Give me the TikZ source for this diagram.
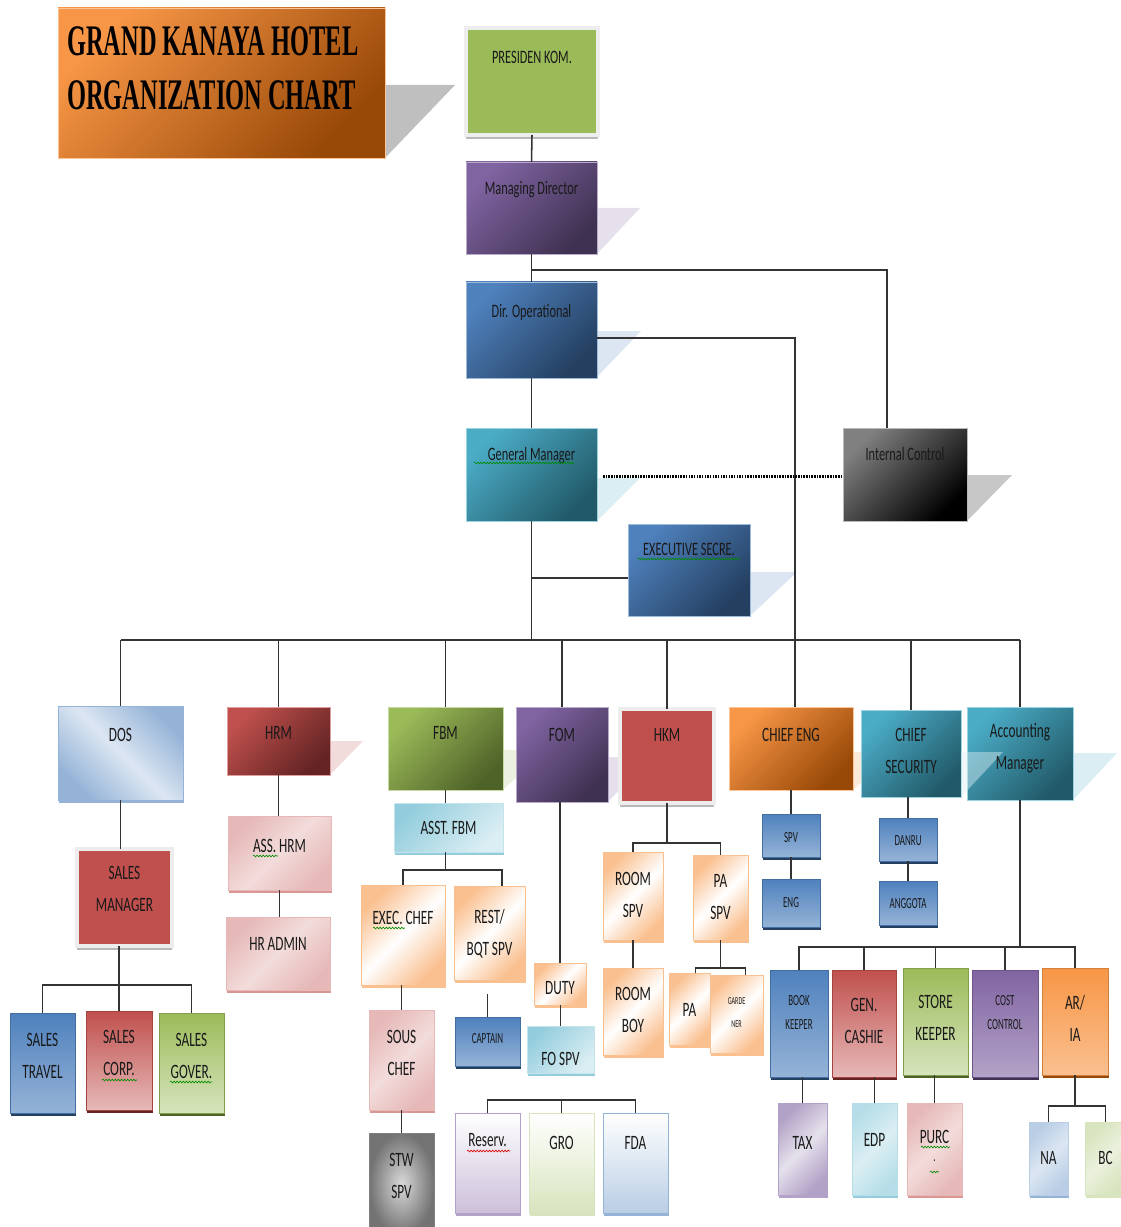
\documentclass[tikz,border=0pt]{standalone}
\usepackage{fontspec}
\setmainfont{Carlito}
\newfontfamily\ckf[FakeStretch=0.65]{Carlito}
\newfontfamily\ckfs[FakeStretch=0.58]{Carlito}
\newfontfamily\cktitle[FakeStretch=0.56]{Liberation Serif}
\usetikzlibrary{shadows,decorations.pathmorphing,calc,backgrounds}
\definecolor{kG}{HTML}{9BBB59}\definecolor{kGd}{HTML}{4F6228}\definecolor{kGl}{HTML}{D7E4BD}\definecolor{kGx}{HTML}{EBF1DE}
\definecolor{kP}{HTML}{8064A2}\definecolor{kPd}{HTML}{3F3151}\definecolor{kPl}{HTML}{CCC0DA}\definecolor{kPx}{HTML}{E5E0EC}\definecolor{kPm}{HTML}{B3A2C7}
\definecolor{kB}{HTML}{4F81BD}\definecolor{kBd}{HTML}{243F60}\definecolor{kBl}{HTML}{B9CDE5}\definecolor{kBx}{HTML}{DCE6F2}\definecolor{kBm}{HTML}{95B3D7}
\definecolor{kT}{HTML}{4BACC6}\definecolor{kTd}{HTML}{215968}\definecolor{kTl}{HTML}{B7DEE8}\definecolor{kTx}{HTML}{DBEEF3}\definecolor{kTm}{HTML}{93CDDD}
\definecolor{kR}{HTML}{C0504D}\definecolor{kRd}{HTML}{632423}\definecolor{kRl}{HTML}{E6B9B8}\definecolor{kRx}{HTML}{F2DCDB}\definecolor{kRm}{HTML}{D99694}
\definecolor{kO}{HTML}{F79646}\definecolor{kOd}{HTML}{984807}\definecolor{kOl}{HTML}{FAC090}\definecolor{kOx}{HTML}{FDE9D9}
\definecolor{kK}{HTML}{808080}\definecolor{kKd}{HTML}{000000}
\tikzset{
 box/.style={inner sep=0pt,outer sep=0pt},
 lbl/.style={anchor=north,inner sep=0pt,outer sep=0pt,align=center,text=black!90},
 fA/.style={font=\ckf\fontsize{13.5}{21}\selectfont},
 fB/.style={font=\ckf\fontsize{14.5}{23}\selectfont},
 fC/.style={font=\ckfs\fontsize{11}{17.5}\selectfont},
 fD/.style={font=\ckfs\fontsize{7.5}{16}\selectfont},
 diag/.style 2 args={top color=#1,bottom color=#2,shading angle=45,draw=#1!55!white,line width=0.6pt},
 vert/.style 2 args={top color=#1,bottom color=#2,draw=#1!85!black,line width=0.6pt},
 band/.style n args={3}{top color=#1,bottom color=#1,middle color=#2,shading angle=#3,draw=#1,line width=0.6pt},
 sh/.style={drop shadow={shadow xshift=1pt,shadow yshift=-2.2pt,fill=#1,opacity=1}},
 frame/.style={fill=#1,draw=white!93!black,line width=2.4pt,drop shadow={shadow xshift=0pt,shadow yshift=-3pt,fill=black!28,opacity=1}},
 ln/.style={draw=black!80,line width=1.1pt},
 dotln/.style={draw=black,line width=2.3pt,dash pattern=on 1.1pt off 0.8pt},
 squig/.style={draw=#1,line width=0.45pt,decorate,decoration={snake,amplitude=0.6pt,segment length=2.2pt}},
 squig/.default={green!55!black},
 tri/.style={fill=#1,draw=none}
}
\newcommand\bx[9]{%
 \node[box,#6,minimum width={(#4-#2)*0.025cm},minimum height={(#5-#3)*0.025cm}] (#1) at ({(#2+#4)/2},{(#3+#5)/2}) {};
 \node[lbl,#7] (#1-t) at ({(#2+#4)/2},#8) {#9};}
\begin{document}
\begin{tikzpicture}[x=0.025cm,y=-0.025cm]
\useasboundingbox (0,0) rectangle (1120,1227);
% title
\node[box,diag={kO}{kOd},minimum width={327*0.025cm},minimum height={150*0.025cm}] (title) at (221.5,83) {};
\node[anchor=north west,inner sep=0pt,align=left,font=\cktitle\bfseries\fontsize{31}{39}\selectfont] (title-t) at (67,26) {GRAND KANAYA HOTEL\\ORGANIZATION CHART};
% top chain
\bx{pres}{466}{28}{598}{135}{frame=kG}{fA}{51}{PRESIDEN KOM.}
\bx{md}{466}{162}{597}{254}{diag={kP}{kPd}}{fA}{181}{Managing Director}
\bx{dop}{466}{282}{597}{378}{diag={kB}{kBd}}{fA}{304}{Dir. Operational}
\bx{gm}{466}{428}{597}{521}{diag={kT}{kTd}}{fA}{447}{General Manager}
\bx{ic}{843}{428}{967}{521}{diag={kK}{kKd}}{fA}{447}{Internal Control}
\bx{es}{628}{524}{750}{616}{diag={kB}{kBd}}{fA}{543}{EXECUTIVE SECRE.}
% row 2
\bx{dos}{58}{706}{183}{800}{band={kBm}{kBx}{-45},sh=kBm}{fB}{728}{DOS}
\bx{hrm}{227}{707}{330}{775}{diag={kR}{kRd}}{fB}{726}{HRM}
\bx{fbm}{388}{707}{503}{790}{diag={kG}{kGd}}{fB}{726}{FBM}
\bx{fom}{516}{707}{608}{802}{diag={kP}{kPd}}{fB}{728}{FOM}
\bx{hkm}{620}{709}{714}{803}{frame=kR}{fB}{728}{HKM}
\bx{ceng}{729}{707}{853}{790}{diag={kO}{kOd}}{fB}{728}{CHIEF ENG}
\bx{csec}{861}{710}{961}{797}{diag={kT}{kTd}}{fB}{728}{CHIEF\\SECURITY}
\node[box,diag={kT}{kTd},minimum width={106*0.025cm},minimum height={93*0.025cm}] (acc) at (1020,753.5) {};
\fill[kTx,opacity=0.45] (961,752) -- (1003,752) -- (961,797) -- cycle;
\node[lbl,fB] (acc-t) at (1020,723) {Accounting\\Manager};
% DOS branch
\bx{sm}{77}{849}{172}{946}{frame=kR}{fB}{866}{SALES\\MANAGER}
\bx{st}{10}{1013}{75}{1113}{vert={kB}{kBm},sh=kBd}{fB}{1033}{SALES\\TRAVEL}
\bx{sc}{86}{1011}{152}{1110}{vert={kR}{kRl},sh=kRd}{fB}{1030}{SALES\\CORP.}
\bx{sg}{159}{1013}{224}{1113}{vert={kG}{kGl},sh=kGd}{fB}{1033}{SALES\\GOVER.}
% HRM branch
\bx{ahrm}{228}{816}{331}{890}{band={kRl}{kRx}{45},sh=kRm}{fB}{839}{ASS. HRM}
\bx{hra}{226}{917}{330}{990}{band={kRl}{kRx}{45},sh=kRm}{fB}{937}{HR ADMIN}
% FBM branch
\bx{afbm}{394}{803}{503}{852}{diag={kTm}{kTx},sh=kTm}{fB}{821}{ASST. FBM}
\bx{ec}{361}{885}{445}{985}{band={kOl}{white}{45},sh=kOl}{fB}{911}{EXEC. CHEF}
\bx{rest}{454}{886}{525}{980}{band={kOl}{white}{45},sh=kOl}{fB}{909}{REST/\\BQT SPV}
\bx{sous}{369}{1010}{434}{1110}{band={kRl}{kRx}{45},sh=kRm}{fB}{1030}{SOUS\\CHEF}
\bx{stw}{369}{1133}{434}{1235}{inner color=white!85!black,outer color=black!55,draw=black!50,line width=0.6pt}{fB}{1153}{STW\\SPV}
\bx{cap}{455}{1017}{520}{1066}{vert={kB}{kBm},sh=kBd}{fC}{1033}{CAPTAIN}
% FOM branch
\bx{duty}{534}{963}{586}{1005}{band={kOl}{white}{45},sh=kOl}{fB}{981}{DUTY}
\bx{fos}{527}{1026}{594}{1073}{diag={kTm}{kTx},sh=kTm}{fB}{1052}{FO SPV}
\bx{res}{455}{1113}{520}{1213}{vert={white}{kPl},draw=kPm,sh=kPm}{fB}{1133}{Reserv.}
\bx{gro}{529}{1113}{594}{1213}{vert={white}{kGl},draw=kGl,sh=kGl}{fB}{1136}{GRO}
\bx{fda}{603}{1113}{668}{1213}{vert={white}{kBl},draw=kBm,sh=kBm}{fB}{1136}{FDA}
% HKM branch
\bx{rspv}{603}{852}{663}{940}{band={kOl}{white}{45},sh=kOl}{fB}{872}{ROOM\\SPV}
\bx{paspv}{693}{855}{748}{940}{band={kOl}{white}{45},sh=kOl}{fB}{874}{PA\\SPV}
\bx{rboy}{603}{968}{663}{1055}{band={kOl}{white}{45},sh=kOl}{fB}{987}{ROOM\\BOY}
\bx{pa}{669}{973}{710}{1045}{band={kOl}{white}{45},sh=kOl}{fB}{1003}{PA}
\bx{gard}{710}{975}{763}{1053}{band={kOl}{white}{45},sh=kOl}{fD}{998}{GARDE\\NER}
% CHIEF ENG / SECURITY branches
\bx{spv}{762}{814}{820}{857}{vert={kB}{kBm},sh=kBd}{fC}{832}{SPV}
\bx{eng}{762}{879}{820}{927}{vert={kB}{kBm},sh=kBd}{fC}{897}{ENG}
\bx{danru}{879}{818}{937}{861}{vert={kB}{kBm},sh=kBd}{fC}{836}{DANRU}
\bx{angg}{879}{881}{937}{925}{vert={kB}{kBm},sh=kBd}{fC}{898}{ANGGOTA}
% Accounting branch
\bx{bk}{770}{970}{828}{1077}{vert={kB}{kBm},sh=kBd}{fC}{995}{BOOK\\KEEPER}
\bx{gc}{832}{970}{896}{1077}{vert={kR}{kRl},sh=kRd}{fB}{998}{GEN.\\CASHIE}
\bx{sk}{903}{968}{968}{1075}{vert={kG}{kGl},sh=kGd}{fB}{995}{STORE\\KEEPER}
\bx{cc}{972}{970}{1038}{1077}{vert={kP}{kPm},sh=kPd}{fC}{995}{COST\\CONTROL}
\bx{ar}{1042}{968}{1108}{1075}{vert={kO}{kOl},sh=kOd}{fB}{995}{AR/\\IA}
\bx{tax}{778}{1103}{827}{1195}{band={kPm}{kPx}{45},sh=kPm}{fB}{1136}{TAX}
\bx{edp}{852}{1103}{897}{1195}{band={kTl}{kTx}{45},sh=kTm}{fB}{1133}{EDP}
\bx{purc}{907}{1103}{962}{1195}{band={kRl}{kRx}{45},sh=kRm}{fB}{1130}{PURC}
\node[lbl,fC] (purc-dot) at (934.5,1160) {.};
\bx{na}{1029}{1122}{1068}{1195}{band={kBl}{kBx}{45},sh=kBm}{fB}{1151}{NA}
\bx{bc}{1085}{1122}{1126}{1195}{band={kGl}{kGx}{45},sh=kGl}{fB}{1151}{BC}
% spelling squiggles
\draw[squig] (474,463) -- (574,463);
\draw[squig] (638,559) -- (740,559);
\draw[squig] (253,856) -- (278,856);
\draw[squig] (102,1080) -- (137,1080);
\draw[squig] (170,1082) -- (212,1082);
\draw[squig] (373,928) -- (405,928);
\draw[squig=red!85!black] (467,1151) -- (510,1151);
\draw[squig] (921,1147) -- (950,1147);
\draw[squig] (930,1172) -- (939,1172);
% connectors
\coordinate (jmd) at (531.5,270);
\coordinate (jgm) at (531.5,640);
\coordinate (jes) at (531.5,578);
\draw[ln] (pres.south) -- (md.north);
\draw[ln] (md.south) -- (dop.north);
\draw[ln] (jmd) -| ($(ic.north)+(-18,0)$);
\draw[ln] (dop.south) -- (gm.north);
\draw[ln] ($(dop.east)+(0,8)$) -| ($(ceng.north)+(4,0)$);
\draw[dotln] ($(gm.east)+(6,2)$) -- ($(ic.west)+(0,2)$);
\draw[ln] (gm.south) -- (jgm);
\draw[ln] (jes) -- (es.west|-jes);
\draw[ln] (dos.north|-jgm) -- (acc.north|-jgm);
\foreach \n in {dos,hrm,fbm,fom,hkm,csec,acc} \draw[ln] (\n.north|-jgm) -- (\n.north);
% DOS
\draw[ln] (dos.south) -- (dos.south|-sm.north);
\coordinate (jsm) at (119,985);
\draw[ln] (sc.north|-sm.south) -- (sc.north);
\draw[ln] (st.north) |- (jsm) -| (sg.north);
% HRM
\draw[ln] (hrm.south) -- (hrm.south|-ahrm.north);
\draw[ln] (ahrm.south) -- (ahrm.south|-hra.north);
% FBM
\draw[ln] (fbm.south) -- (fbm.south|-afbm.north);
\coordinate (jfb) at (445.5,870);
\coordinate (jrest) at (502,870);
\draw[ln] (fbm.south|-afbm.south) -- (jfb);
\draw[ln] (ec.north) |- (jrest) -- (jrest|-rest.north);
\draw[ln] (sous.north|-ec.south) -- (sous.north);
\draw[ln] (sous.south) -- (stw.north);
\coordinate (jcap) at (487.5,994);
\draw[ln] (jcap) -- (cap.north);
% FOM
\draw[ln] (duty.north|-fom.south) -- (duty.north);
\draw[ln] (fos.north|-duty.south) -- (fos.north);
\coordinate (jfo) at (560.5,1100);
\draw[ln] (res.north) |- (jfo) -| (fda.north);
\draw[ln] (gro.north|-jfo) -- (gro.north);
% HKM
\coordinate (jhk) at (667,843);
\draw[ln] (hkm.south) -- (jhk);
\draw[ln] (rspv.north) |- (jhk) -| (paspv.north);
\draw[ln] (rspv.south) -- (rboy.north);
\coordinate (jpa) at (720.5,968);
\draw[ln] (paspv.south) -- (jpa);
\draw[ln] ($(pa.north)+(6,0)$) |- (jpa) -| ($(gard.north)+(9,0)$);
% CHIEF ENG / SECURITY
\draw[ln] (ceng.south) -- (spv.north);
\draw[ln] (spv.south) -- (eng.north);
\draw[ln] (danru.north|-csec.south) -- (danru.north);
\draw[ln] (danru.south) -- (angg.north);
% Accounting
\coordinate (jac) at (1020,947);
\draw[ln] (acc.south) -- (jac);
\draw[ln] (bk.north) |- (jac) -| (ar.north);
\foreach \n in {gc,sk,cc} \draw[ln] (\n.north|-jac) -- (\n.north);
\draw[ln] (tax.north|-bk.south) -- (tax.north);
\draw[ln] (edp.north|-gc.south) -- (edp.north);
\draw[ln] (purc.north|-sk.south) -- (purc.north);
\coordinate (jar) at (1075,1106);
\draw[ln] (ar.south) -- (jar);
\draw[ln] (na.north) |- (jar) -| (bc.north);
% perspective shadows
\begin{scope}[on background layer]
\fill[tri=black!25] (385,85) -- (455,85) -- (385,158) -- cycle;
\fill[tri=kPx] (597,208) -- (640,208) -- (597,254) -- cycle;
\fill[tri=kBx] (597,331) -- (641,331) -- (597,377) -- cycle;
\fill[tri=kTx] (597,478) -- (640,478) -- (597,521) -- cycle;
\fill[tri=black!22] (967,475) -- (1012,475) -- (967,521) -- cycle;
\fill[tri=kBx] (750,572) -- (797,572) -- (750,616) -- cycle;
\fill[tri=kRx] (330,741) -- (363,741) -- (330,775) -- cycle;
\fill[tri=kGx] (503,750) -- (545,750) -- (503,790) -- cycle;
\fill[tri=kPx] (608,757) -- (650,757) -- (608,802) -- cycle;
\fill[tri=kOx] (853,752) -- (895,752) -- (853,790) -- cycle;
\fill[tri=kTx] (1073,753) -- (1117,753) -- (1073,800) -- cycle;
\end{scope}
\end{tikzpicture}
\end{document}
